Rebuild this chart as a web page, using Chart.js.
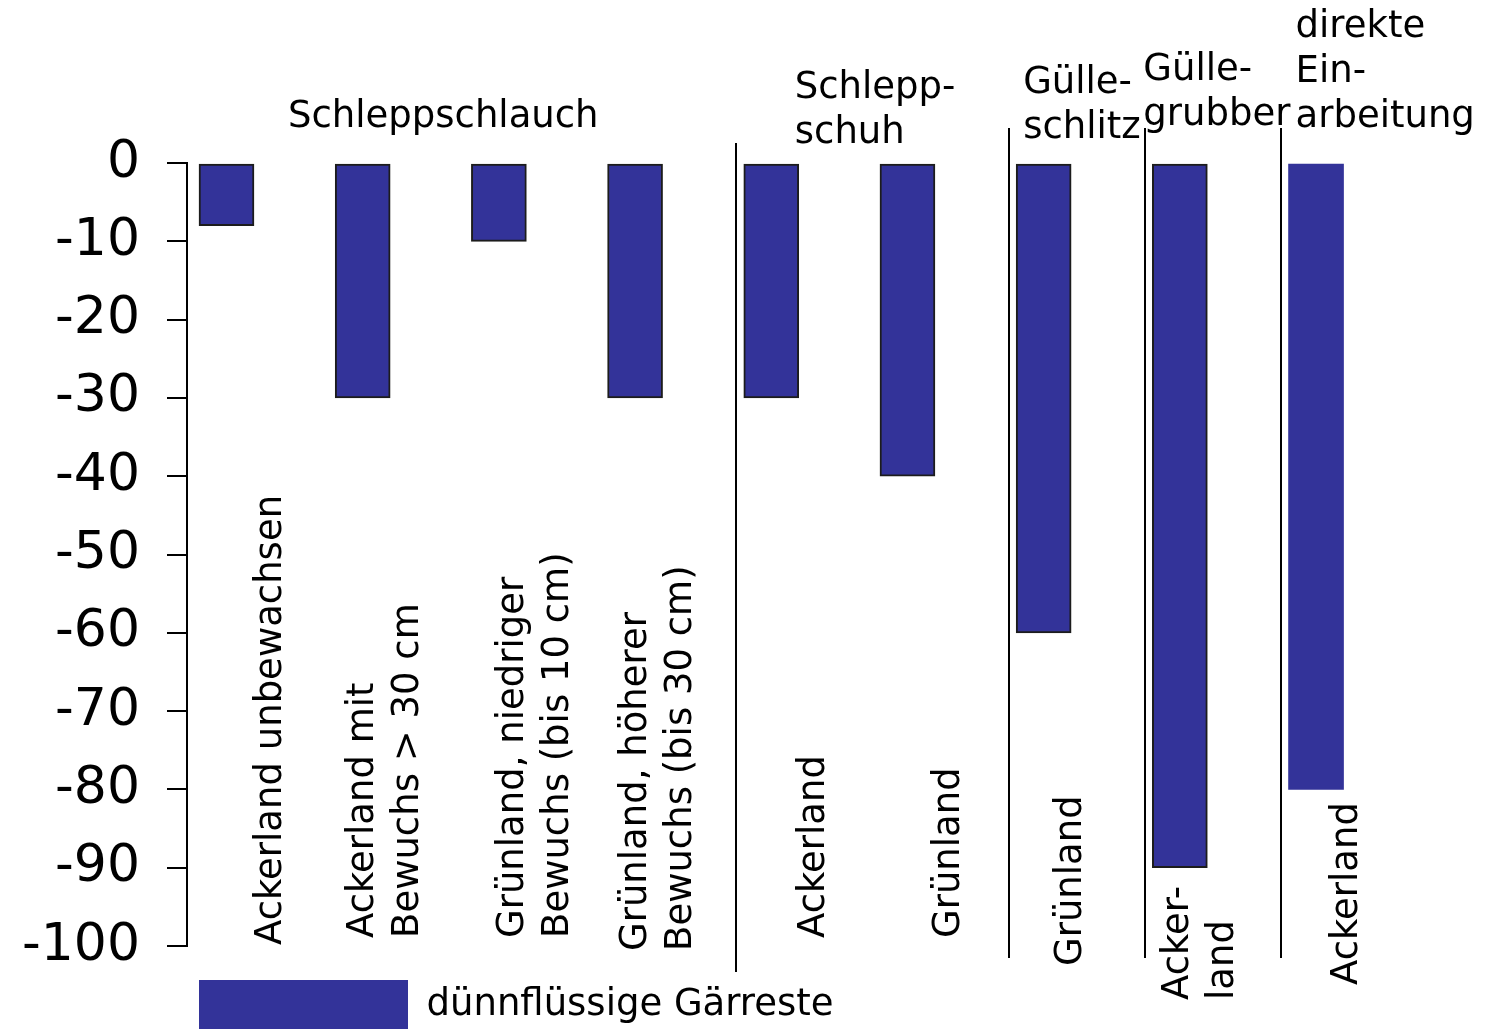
<!DOCTYPE html>
<html>
<head>
<meta charset="utf-8">
<script src="https://cdn.jsdelivr.net/npm/chart.js@4/dist/chart.umd.min.js"></script>
<style>
  html, body { margin: 0; padding: 0; background: #fff; overflow: hidden; }
  canvas { display: block; }
</style>
</head>
<body>
<canvas id="chart" width="1489" height="1040"></canvas>
<script>
// data (emission reduction in %)
const categories = [
    ['Ackerland unbewachsen'],
    ['Ackerland mit', 'Bewuchs > 30 cm'],
    ['Grünland, niedriger', 'Bewuchs (bis 10 cm)'],
    ['Grünland, höherer', 'Bewuchs (bis 30 cm)'],
    ['Ackerland'],
    ['Grünland'],
    ['Grünland'],
    ['Acker-', 'land'],
    ['Ackerland']
];
const values = [-8, -30, -10, -30, -30, -40, -60, -90, -80];
const seriesName = 'dünnflüssige Gärreste';

// technique groups: title lines and index of the first bar in the group
const groupNames = [
    ['Schleppschlauch'],
    ['Schlepp-', 'schuh'],
    ['Gülle-', 'schlitz'],
    ['Gülle-', 'grubber'],
    ['direkte', 'Ein-', 'arbeitung']
];
const groupStart = [0, 4, 6, 7, 8];

const yMin = -100;
const yMax = 0;
const yStep = 10;

// draws group separators, group titles and the rotated bar labels
const overlayPlugin = {
    id: 'overlay',
    afterDatasetsDraw(chart, args, opts) {
        const ctx = chart.ctx;
        const xs = chart.scales.x;
        ctx.save();
        ctx.fillStyle = '#000';
        ctx.strokeStyle = '#000';
        ctx.lineWidth = 2;
        ctx.font = opts.font;

        // vertical lines between the groups
        groupStart.forEach((start, g) => {
            if (g === 0) return;
            const px = Math.round(xs.getPixelForValue(start)) - opts.sepGap;
            ctx.beginPath();
            ctx.moveTo(px, opts.sepTop[g]);
            ctx.lineTo(px, opts.sepBottom[g]);
            ctx.stroke();
        });

        // group titles above the bars
        ctx.textAlign = 'left';
        ctx.textBaseline = 'alphabetic';
        groupNames.forEach((lines, g) => {
            const px = xs.getPixelForValue(groupStart[g]) + opts.titleDx[g];
            lines.forEach((t, k) => ctx.fillText(t, px, opts.titleY[g] + k * opts.lineGap));
        });

        // category labels, reading bottom to top
        categories.forEach((lines, i) => {
            const px = xs.getPixelForValue(i) + opts.labelDx[i];
            lines.forEach((t, k) => {
                ctx.save();
                ctx.translate(px + k * opts.lineGap, opts.labelY[i]);
                ctx.rotate(-Math.PI / 2);
                ctx.fillText(t, 0, 0);
                ctx.restore();
            });
        });
        ctx.restore();
    }
};

const ctx = document.getElementById('chart').getContext('2d');
new Chart(ctx, {
    type: 'bar',
    data: {
        datasets: [{
            label: seriesName,
            data: values.map((v, i) => ({ x: i, y: v })),
            backgroundColor: '#333399',
            borderColor: '#1c1c1c',
            borderWidth: c => (c.dataIndex === values.length - 1 ? 0 : 2),
            borderSkipped: false,
            barThickness: 55
        }]
    },
    options: {
        responsive: false,
        devicePixelRatio: 1,
        animation: false,
        layout: {
            padding: { left: 0, top: 163, right: 0, bottom: 0 }
        },
        scales: {
            x: {
                type: 'linear',
                offset: false,
                min: -0.29,
                max: 9.27,
                // invisible, only keeps a gap between bars and legend
                afterFit: s => { s.height = 22; },
                ticks: { display: false },
                grid: { display: false },
                border: { display: false }
            },
            y: {
                min: yMin,
                max: yMax,
                afterFit: s => { s.width = 187; },
                ticks: {
                    stepSize: yStep,
                    padding: 27,
                    color: '#000',
                    font: { family: 'DejaVu Sans', size: 52 }
                },
                grid: {
                    drawOnChartArea: false,
                    drawTicks: true,
                    tickLength: 20,
                    color: '#000',
                    lineWidth: 2
                },
                border: { display: true, color: '#000', width: 2 }
            }
        },
        plugins: {
            legend: {
                position: 'bottom',
                align: 'start',
                fullSize: false,
                labels: {
                    boxWidth: 209,
                    boxHeight: 50,
                    padding: 12,
                    color: '#000',
                    font: { family: 'DejaVu Sans', size: 37 },
                    generateLabels: chart => Chart.defaults.plugins.legend.labels.generateLabels(chart)
                        .map(l => Object.assign(l, { lineWidth: 0 }))
                }
            },
            tooltip: { enabled: false },
            overlay: {
                font: '37px "DejaVu Sans"',
                lineGap: 45,
                sepGap: 35,
                sepTop: [0, 143, 128, 128, 128],
                sepBottom: [0, 972, 958, 958, 958],
                titleDx: [61.5, 23.5, -20.5, -36.5, -20.5],
                titleY: [127, 98, 93, 80, 37],
                labelDx: [55, 10, 24.5, 10.5, 52.5, 51.5, 37.5, 8.5, 40.5],
                labelY: [945, 938, 938, 951, 938, 938, 966, 1000, 985]
            }
        }
    },
    plugins: [overlayPlugin]
});
</script>
</body>
</html>
